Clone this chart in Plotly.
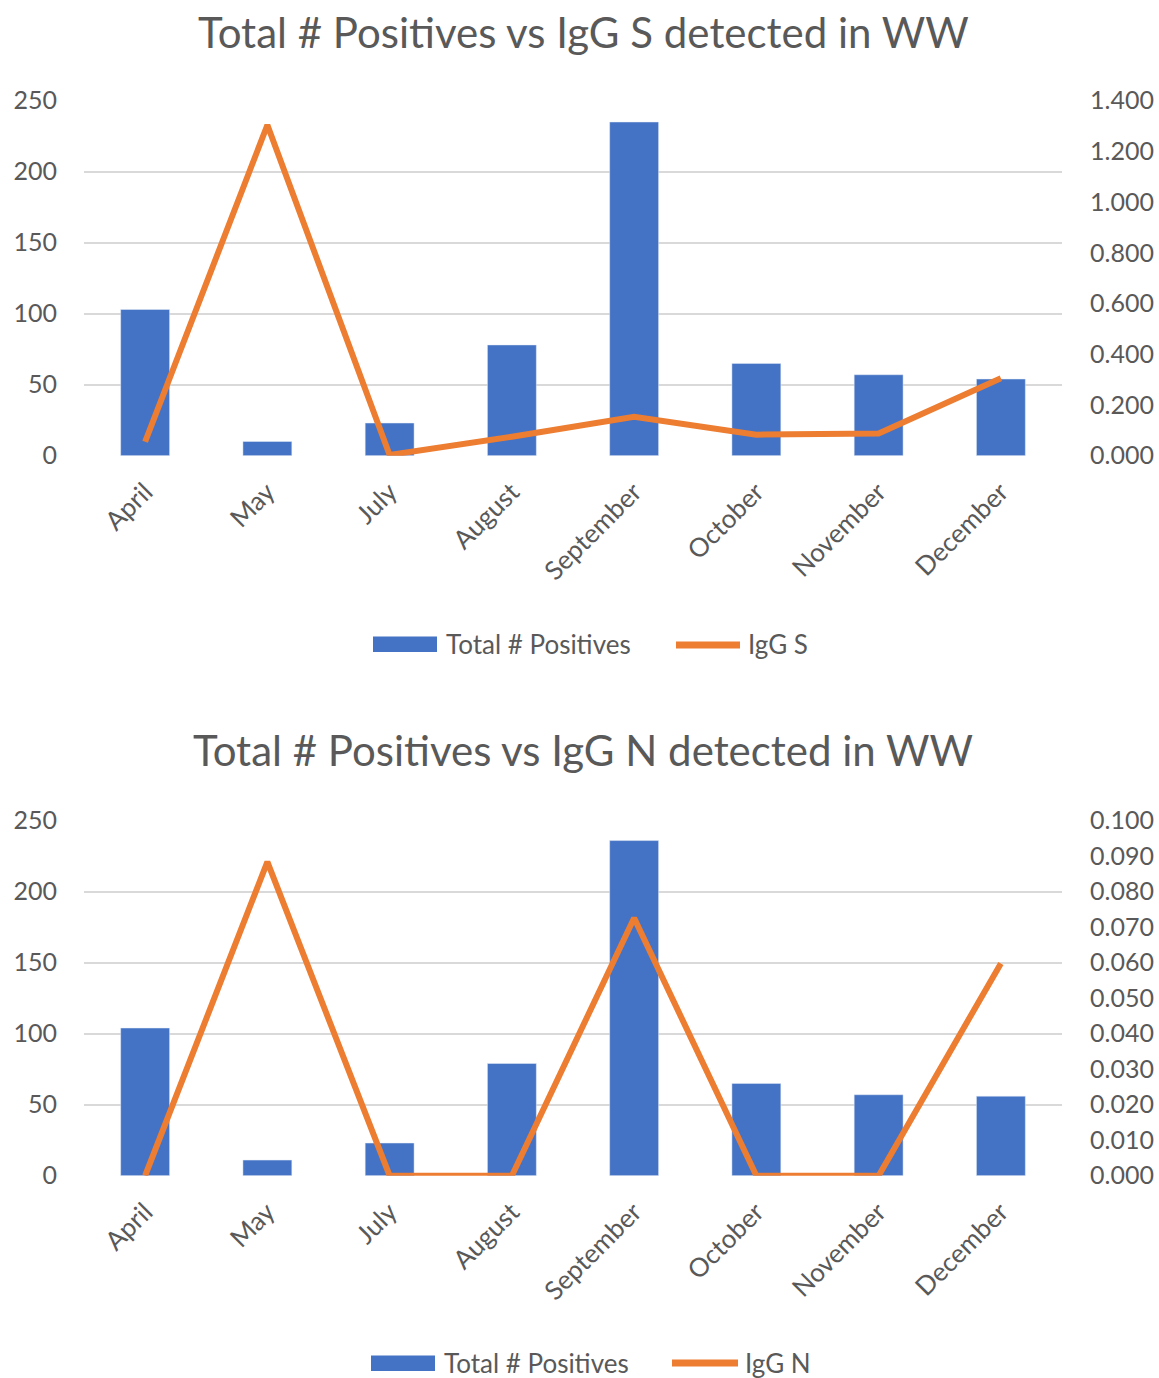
import plotly.graph_objects as go
from plotly.subplots import make_subplots

months = ["April", "May", "July", "August", "September", "October", "November", "December"]
positives_s = [103, 10, 23, 78, 235, 65, 57, 54]
igg_s = [0.055, 1.304, 0.003, 0.075, 0.153, 0.083, 0.088, 0.305]
positives_n = [104, 11, 23, 79, 236, 65, 57, 56]
igg_n = [0.0, 0.0884, 0.0, 0.0, 0.0726, 0.0, 0.0, 0.0598]
left_ticks = [0, 50, 100, 150, 200, 250]
right_ticks_s = [0, 0.2, 0.4, 0.6, 0.8, 1.0, 1.2, 1.4]
right_ticks_n = [0, 0.01, 0.02, 0.03, 0.04, 0.05, 0.06, 0.07, 0.08, 0.09, 0.1]
titles = ["Total # Positives vs IgG S detected in WW", "Total # Positives vs IgG N detected in WW"]
bar_name = "Total # Positives"
line_names = ["IgG S", "IgG N"]

BLUE = "#4472C4"
ORANGE = "#ED7D31"
GRAY = "#595959"
GRID = "#D9D9D9"
FONT = "Lato"
W, H = 1159, 1378


def fy(py):
    return 1 - py / H


def fx(px):
    return px / W


fig = make_subplots(rows=2, cols=1, specs=[[{"secondary_y": True}], [{"secondary_y": True}]])

fig.add_trace(go.Bar(x=months, y=positives_s, name=bar_name, marker_color=BLUE),
              row=1, col=1, secondary_y=False)
fig.add_trace(go.Scatter(x=months, y=igg_s, name=line_names[0], mode="lines", cliponaxis=False,
                         line=dict(color=ORANGE, width=6)),
              row=1, col=1, secondary_y=True)
fig.add_trace(go.Bar(x=months, y=positives_n, name=bar_name, marker_color=BLUE),
              row=2, col=1, secondary_y=False)
fig.add_trace(go.Scatter(x=months, y=igg_n, name=line_names[1], mode="lines", cliponaxis=False,
                         line=dict(color=ORANGE, width=6)),
              row=2, col=1, secondary_y=True)

xdom = [fx(84), fx(1062)]
tickfont = dict(family=FONT, size=25, color=GRAY)
xtickfont = dict(family=FONT, size=26, color=GRAY)

for i, (top, bot) in enumerate([(100.7, 455.7), (820.7, 1175.7)]):
    r = i + 1
    fig.update_xaxes(row=r, col=1, domain=xdom, tickangle=-45, tickfont=xtickfont,
                     showline=False, ticks="", ticklabelstandoff=15, automargin=False)
    fig.update_yaxes(row=r, col=1, secondary_y=False, domain=[fy(bot), fy(top)],
                     range=[0, 250], tickvals=left_ticks, tickfont=tickfont,
                     showgrid=True, gridcolor=GRID, gridwidth=1.5, zeroline=False,
                     showline=False, ticklabelstandoff=26, automargin=False)
    rt = right_ticks_s if i == 0 else right_ticks_n
    fig.update_yaxes(row=r, col=1, secondary_y=True,
                     range=[0, rt[-1]], tickvals=rt, tickformat=".3f", tickfont=tickfont,
                     showgrid=False, zeroline=False, showline=False, ticklabelstandoff=27,
                     automargin=False)

# custom legends (wide symbols like the original)
shapes = []
annotations = []
legend_rows = [
    dict(rect=(373, 437, 636.5, 652), t1=444, line=(676, 740), ly=645, t2=746, ty=644),
    dict(rect=(371, 435, 1355.5, 1371), t1=442, line=(672, 738), ly=1363, t2=743, ty=1363),
]
for i, lg in enumerate(legend_rows):
    x0, x1, y0, y1 = lg["rect"]
    shapes.append(dict(type="rect", xref="paper", yref="paper", x0=fx(x0), x1=fx(x1),
                       y0=fy(y1), y1=fy(y0), fillcolor=BLUE, line=dict(width=0)))
    shapes.append(dict(type="line", xref="paper", yref="paper", x0=fx(lg["line"][0]),
                       x1=fx(lg["line"][1]), y0=fy(lg["ly"]), y1=fy(lg["ly"]),
                       line=dict(color=ORANGE, width=7)))
    annotations.append(dict(text=bar_name, x=fx(lg["t1"]), y=fy(lg["ty"]), xref="paper",
                            yref="paper", showarrow=False, xanchor="left", yanchor="middle",
                            font=dict(family=FONT, size=26, color=GRAY)))
    annotations.append(dict(text=line_names[i], x=fx(lg["t2"]), y=fy(lg["ty"]), xref="paper",
                            yref="paper", showarrow=False, xanchor="left", yanchor="middle",
                            font=dict(family=FONT, size=26, color=GRAY)))

for t, ty in zip(titles, [32, 750]):
    annotations.append(dict(text=t, x=fx(583), y=fy(ty), xref="paper", yref="paper",
                            showarrow=False, xanchor="center", yanchor="middle",
                            font=dict(family=FONT, size=42, color=GRAY)))

fig.update_layout(
    width=W, height=H,
    margin=dict(l=0, r=0, t=0, b=0, autoexpand=False),
    paper_bgcolor="white", plot_bgcolor="white",
    bargap=0.6,
    showlegend=False,
    hovermode=False,
    shapes=shapes,
    annotations=annotations,
)

fig.write_html(
    "out.html",
    config={"displayModeBar": False},
    post_script="document.body.style.margin='0';document.body.style.overflow='hidden';",
)
